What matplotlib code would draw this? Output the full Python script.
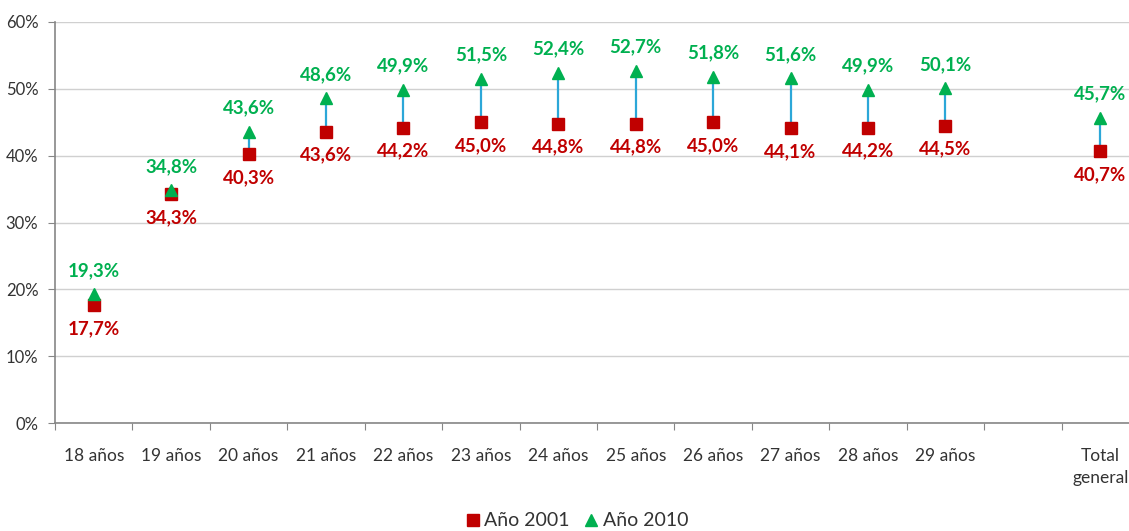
import numpy as np
import matplotlib

matplotlib.use("Agg")
import matplotlib.pyplot as plt
from matplotlib.lines import Line2D

plt.rcParams["font.family"] = ["Lato", "DejaVu Sans"]

# ---------------------------------------------------------------------------
# Data
# ---------------------------------------------------------------------------

categories = ["18 años", "19 años", "20 años", "21 años", "22 años", "23 años",
              "24 años", "25 años", "26 años", "27 años", "28 años", "29 años",
              "", "Total\ngeneral"]
y2001 = [17.7, 34.3, 40.3, 43.6, 44.2, 45.0, 44.8, 44.8, 45.0, 44.1, 44.2, 44.5,
         np.nan, 40.7]
y2010 = [19.3, 34.8, 43.6, 48.6, 49.9, 51.5, 52.4, 52.7, 51.8, 51.6, 49.9, 50.1,
         np.nan, 45.7]
yticks = [0, 10, 20, 30, 40, 50, 60]

RED = "#c00000"
GREEN = "#00b050"
BLUE = "#2ca7d8"
AXIS = "#868686"
TEXT = "#333333"


def fmt(v):
    return f"{v:.1f}%".replace(".", ",")


fig = plt.figure(figsize=(11.29, 5.31), dpi=100)
ax = fig.add_axes([55 / 1129, 108 / 531, 1084 / 1129, 401 / 531])

x = np.arange(len(categories))

for xi, a, b in zip(x, y2001, y2010):
    if np.isnan(a):
        continue
    ax.plot([xi, xi], [a, b], color=BLUE, linewidth=1.6, zorder=2)
    ax.annotate(fmt(b), (xi, b), xytext=(0, 17), textcoords="offset points",
                ha="center", va="center", color=GREEN, fontsize=13.5, fontweight="bold")
    ax.annotate(fmt(a), (xi, a), xytext=(0, -17), textcoords="offset points",
                ha="center", va="center", color=RED, fontsize=13.5, fontweight="bold")

ax.plot(x, y2001, linestyle="none", marker="s", markersize=9, color=RED, zorder=3)
ax.plot(x, y2010, linestyle="none", marker="^", markersize=9, color=GREEN, zorder=4)

ax.set_xlim(-0.5, len(categories) - 0.5)
ax.set_ylim(0, 60)
ax.set_yticks(yticks)
ax.set_yticklabels([f"{t}%" for t in yticks])

ax.set_xticks(np.arange(len(categories) + 1) - 0.5)
ax.set_xticklabels([])
ax.set_xticks(x, minor=True)
ax.set_xticklabels(categories, minor=True, linespacing=1.45)
ax.tick_params(axis="x", which="major", length=5, color=AXIS, direction="out")
ax.tick_params(axis="x", which="minor", length=0, pad=18, labelsize=12.5, labelcolor=TEXT)
ax.tick_params(axis="y", length=5, color=AXIS, labelsize=12, labelcolor=TEXT, pad=7)

ax.grid(axis="y", color="#d0d0d0", linewidth=1)
ax.set_axisbelow(True)
for s in ("top", "right"):
    ax.spines[s].set_visible(False)
for s in ("left", "bottom"):
    ax.spines[s].set_color(AXIS)
    ax.spines[s].set_linewidth(1.2)

handles = [
    Line2D([], [], linestyle="none", marker="s", markersize=9, color=RED, label="Año 2001"),
    Line2D([], [], linestyle="none", marker="^", markersize=9, color=GREEN, label="Año 2010"),
]
fig.legend(handles=handles, loc="lower center", bbox_to_anchor=(0.51, -0.03), ncol=2,
           frameon=False, fontsize=14, handletextpad=0.1, columnspacing=0.6,
           handlelength=1.0, labelcolor=TEXT)

fig.savefig("out.png", dpi=100)
